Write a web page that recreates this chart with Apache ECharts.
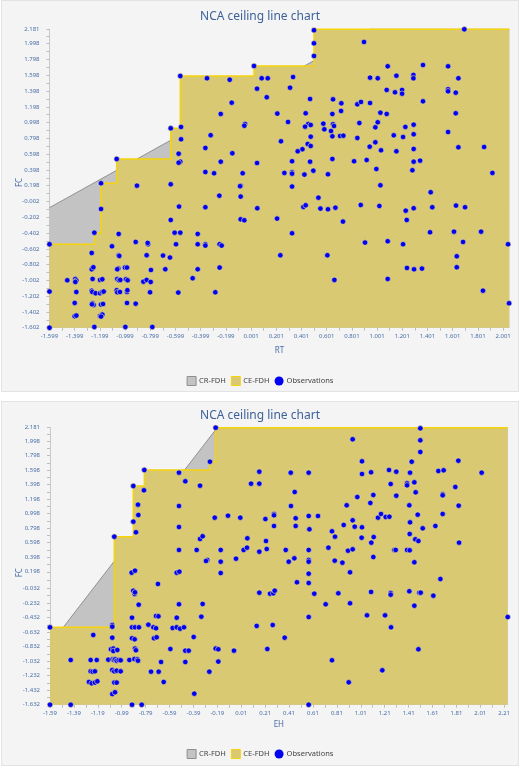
<!DOCTYPE html>
<html><head><meta charset="utf-8">
<script src="https://cdn.jsdelivr.net/npm/echarts@6/dist/echarts.min.js"></script>
<style>
html,body{margin:0;padding:0;background:#fff;width:520px;height:766px;overflow:hidden}
.panel{position:absolute;left:1px;width:518px;background:#f4f4f4;box-shadow:inset 0 0 0 1px #e3e3e3}
#c1{top:0;height:392px}
#c2{top:401px;height:365px}
</style></head><body>
<div id="c1" class="panel"></div><div id="c2" class="panel"></div>
<script>
// ---------- data: chart 1 (RT vs FC) ----------
const topTitle = 'NCA ceiling line chart';
const topXName = 'RT', topYName = 'FC';
const topXTicks = [-1.599,-1.399,-1.199,-0.999,-0.799,-0.599,-0.399,-0.199,0.001,0.201,0.401,0.601,0.801,1.001,1.201,1.401,1.601,1.801,2.001];
const topYTicks = [-1.602,-1.402,-1.202,-1.002,-0.802,-0.602,-0.402,-0.202,-0.002,0.198,0.398,0.598,0.798,0.998,1.198,1.398,1.598,1.798,1.998,2.181];
const topXRange = [-1.599, 2.05];
const topYRange = [-1.602, 2.181];
const topCR = [[-1.599,-0.080],[0.947,2.181],[2.05,2.181]];
const topCE = [[-1.599,-0.544],[-1.243,-0.397],[-1.190,0.229],[-1.066,0.537],[-0.637,0.926],[-0.561,1.589],[0.024,1.716],[0.500,2.181],[2.05,2.181]];
const topObs = [
[0.024,1.716],[-0.561,1.589],[-0.349,1.560],[-0.169,1.542],[0.048,1.428],[-0.153,1.251],[-0.240,1.108],[-0.047,0.981],[-0.053,0.959],[-0.637,0.926],[-0.555,0.943],[-0.555,0.787],[-0.320,0.838],[-0.362,0.677],[-0.148,0.609],[-0.574,0.604],[-0.561,0.503],[-0.574,0.490],[-0.240,0.503],[0.048,0.486],[-0.362,0.372],[-0.293,0.356],[-0.066,0.356],[-1.066,0.537],
[1.693,2.181],[0.500,2.170],[0.500,2.003],[0.500,1.843],[0.897,2.020],[1.085,1.712],[1.365,1.728],[1.564,1.712],[0.085,1.560],[0.133,1.560],[0.334,1.576],[0.945,1.568],[1.006,1.560],[1.154,1.593],[1.289,1.602],[1.289,1.560],[1.646,1.560],[0.310,1.441],[1.077,1.412],[1.143,1.382],[1.199,1.412],[1.199,1.365],[1.564,1.420],[1.564,1.395],[1.625,1.378],[0.125,1.319],[0.469,1.298],[0.651,1.293],[0.717,1.243],[0.844,1.230],[0.873,1.260],[0.945,1.247],[1.365,1.268],[0.715,1.146],[0.209,1.112],[0.434,1.116],[0.646,1.108],[1.027,1.124],[1.077,1.108],[1.625,1.116],[0.294,1.006],[0.455,0.981],[0.474,0.968],[0.429,0.947],[0.574,0.985],[0.651,0.977],[0.659,0.955],[0.860,0.993],[1.006,1.002],[0.987,0.938],[1.225,0.943],[1.291,0.972],[0.582,0.913],[0.635,0.892],[0.474,0.820],[0.646,0.824],[0.707,0.829],[0.733,0.833],[0.844,0.803],[1.133,0.837],[1.207,0.816],[1.291,0.850],[1.564,0.879],[0.238,0.761],[0.450,0.727],[0.474,0.702],[0.408,0.660],[0.371,0.634],[0.942,0.693],[0.987,0.748],[1.032,0.647],[1.154,0.634],[1.291,0.664],[1.646,0.685],[1.850,0.689],[0.646,0.537],[0.326,0.508],[0.469,0.503],[0.818,0.508],[0.918,0.524],[1.291,0.503],[1.342,0.516],[0.265,0.360],[0.326,0.368],[0.326,0.351],[0.424,0.339],[0.495,0.389],[0.611,0.343],[0.995,0.410],[1.281,0.394],[1.916,0.360],
[0.326,0.187],[1.027,0.203],[1.426,0.115],[0.535,0.047],[0.416,-0.071],[0.434,-0.050],[0.551,-0.092],[0.611,-0.101],[0.670,-0.080],[0.871,-0.046],[1.019,-0.059],[1.228,-0.118],[1.291,-0.088],[1.439,-0.075],[1.627,-0.054],[1.699,-0.075],[0.207,-0.219],[0.730,-0.257],[1.236,-0.236],[0.326,-0.405],[1.421,-0.392],[1.611,-0.384],[1.826,-0.384],[0.905,-0.523],[1.085,-0.506],[1.207,-0.544],[1.683,-0.515],[2.040,-0.544],[0.233,-0.684],[0.606,-0.684],[1.633,-0.697],[1.238,-0.844],[1.294,-0.861],[1.357,-0.853],[1.633,-0.836],[0.662,-0.996],[1.085,-0.984],[1.841,-1.132],[2.048,-1.292],
[-1.190,0.229],[-0.905,0.199],[-0.637,0.216],[-0.082,0.199],[-0.087,0.192],[-0.251,0.072],[-0.082,0.060],[-1.190,-0.097],[-0.571,-0.067],[-0.362,-0.075],[0.050,-0.088],[-0.637,-0.236],[-0.082,-0.228],[-0.053,-0.240],[-1.243,-0.397],[-1.050,-0.413],[-0.606,-0.397],[-0.561,-0.397],[-0.423,-0.413],[-1.599,-0.544],[-1.103,-0.570],[-0.915,-0.515],[-0.817,-0.544],[-0.820,-0.527],[-0.595,-0.544],[-0.423,-0.544],[-0.362,-0.544],[-0.362,-0.561],[-0.249,-0.544],[-0.233,-0.561],[-1.264,-0.654],[-1.050,-0.684],[-1.045,-0.692],[-0.828,-0.684],[-0.698,-0.688],[-0.643,-0.713],[-1.257,-0.849],[-1.264,-0.861],[-1.251,-0.836],[-1.053,-0.853],[-1.061,-0.861],[-1.000,-0.840],[-0.984,-0.840],[-0.794,-0.870],[-0.680,-0.861],[-0.423,-0.861],[-0.249,-0.840],[-1.458,-1.001],[-1.394,-0.984],[-1.386,-1.005],[-1.394,-1.022],[-1.257,-0.984],[-1.198,-0.996],[-1.180,-0.988],[-1.061,-0.984],[-1.048,-1.001],[-1.037,-0.996],[-0.992,-0.988],[-0.979,-1.001],[-0.854,-1.018],[-0.828,-0.996],[-0.796,-1.022],[-0.463,-0.975],[-1.599,-1.144],[-1.386,-1.149],[-1.264,-1.132],[-1.259,-1.149],[-1.233,-1.165],[-1.198,-1.165],[-1.180,-1.149],[-1.169,-1.144],[-1.066,-1.127],[-1.061,-1.153],[-1.040,-1.149],[-0.984,-1.149],[-0.981,-1.127],[-0.801,-1.153],[-0.577,-1.157],[-0.283,-1.153],[-1.399,-1.288],[-1.257,-1.292],[-1.249,-1.313],[-1.262,-1.305],[-1.190,-1.309],[-1.174,-1.301],[-0.984,-1.288],[-0.915,-1.297],[-1.399,-1.457],[-1.386,-1.448],[-1.198,-1.453],[-1.180,-1.436],[-1.190,-1.461],[-1.599,-1.602],[-1.243,-1.592],[-0.997,-1.592],[-0.783,-1.592]
];

// ---------- data: chart 2 (EH vs FC) ----------
const botTitle = 'NCA ceiling line chart';
const botXName = 'EH', botYName = 'FC';
const botXTicks = [-1.59,-1.39,-1.19,-0.99,-0.79,-0.59,-0.39,-0.19,0.01,0.21,0.41,0.61,0.81,1.01,1.21,1.41,1.61,1.81,2.01,2.21];
const botYTicks = [-1.632,-1.432,-1.232,-1.032,-0.832,-0.632,-0.432,-0.232,-0.032,0.198,0.398,0.598,0.798,0.998,1.198,1.398,1.598,1.798,1.998,2.181];
const botXRange = [-1.59, 2.239];
const botYRange = [-1.632, 2.181];
const botCR = [[-1.590,-0.803],[-0.191,2.181],[2.239,2.181]];
const botCE = [[-1.590,-0.567],[-1.069,-0.535],[-1.052,0.681],[-0.893,1.379],[-0.801,1.599],[-0.252,1.713],[-0.204,2.181],[2.239,2.181]];
const botObs = [
[-0.204,2.181],[-0.252,1.713],[-0.801,1.599],[-0.511,1.562],[-0.893,1.379],[-0.804,1.319],[-0.458,1.443],[-0.335,1.383],[0.161,1.576],[0.161,1.411],[0.092,1.411],[-0.854,1.122],[-0.511,1.103],[-0.851,0.979],[-0.212,0.943],[-0.101,0.970],[0.002,0.943],[-0.893,0.888],[-0.871,0.741],[-0.511,0.814],[-1.052,0.681],[-0.335,0.649],[-0.313,0.686],[0.061,0.658],[-0.511,0.498],[-0.363,0.498],[-0.162,0.498],[0.030,0.498],[0.058,0.530],[0.161,0.475],[-0.274,0.360],[-0.285,0.346],[-0.162,0.337],[-0.034,0.378],
[1.508,2.172],[0.942,2.021],[1.508,2.007],[1.508,1.847],[1.020,1.718],[1.436,1.713],[1.826,1.727],[0.424,1.562],[0.574,1.562],[1.020,1.544],[1.096,1.567],[1.246,1.599],[1.307,1.576],[1.422,1.562],[1.659,1.585],[1.703,1.594],[2.021,1.562],[1.260,1.406],[1.397,1.415],[1.397,1.388],[1.458,1.429],[1.801,1.365],[0.457,1.296],[1.469,1.291],[0.981,1.227],[1.115,1.255],[1.307,1.245],[1.695,1.264],[1.695,1.250],[0.426,1.103],[0.892,1.112],[1.090,1.145],[1.416,1.112],[1.829,1.108],[0.212,0.924],[0.284,0.993],[0.284,0.975],[0.465,0.934],[0.574,0.966],[0.652,0.966],[0.942,0.906],[1.154,0.943],[1.179,0.993],[1.218,0.952],[1.249,0.956],[1.486,0.984],[1.695,0.993],[0.284,0.828],[0.465,0.828],[0.580,0.782],[0.867,0.842],[0.959,0.819],[1.020,0.810],[1.422,0.878],[1.528,0.796],[1.634,0.828],[0.769,0.755],[0.794,0.681],[1.017,0.667],[1.118,0.676],[1.098,0.599],[1.419,0.718],[1.466,0.644],[1.492,0.621],[1.832,0.599],[0.217,0.621],[0.223,0.511],[0.382,0.498],[0.574,0.498],[0.739,0.530],[0.903,0.488],[0.942,0.507],[1.291,0.498],[1.302,0.498],[1.397,0.498],[1.419,0.493],[0.407,0.337],[0.454,0.383],[0.574,0.360],[0.574,0.337],[0.792,0.351],[0.856,0.323],[1.115,0.401],[1.458,0.328],
[-0.907,0.186],[-0.879,0.213],[-0.530,0.186],[-0.508,0.199],[-0.162,0.181],[-0.687,0.030],[0.161,-0.090],[-0.893,-0.062],[-0.882,-0.108],[-0.879,-0.085],[-0.848,-0.255],[-0.511,-0.250],[-0.313,-0.245],[-0.904,-0.434],[-0.703,-0.411],[-0.683,-0.416],[-0.530,-0.434],[-0.324,-0.420],[-1.590,-0.567],[-1.069,-0.535],[-1.069,-0.558],[-0.904,-0.567],[-0.879,-0.567],[-0.846,-0.567],[-0.767,-0.530],[-0.725,-0.567],[-0.703,-0.580],[-0.564,-0.576],[-0.530,-0.567],[-0.502,-0.585],[-0.469,-0.567],[0.139,-0.548],[-1.228,-0.672],[-1.069,-0.709],[-0.904,-0.718],[-0.882,-0.732],[-0.720,-0.718],[-0.698,-0.704],[-0.388,-0.700],[-1.080,-0.870],[-1.060,-0.860],[-1.035,-0.883],[-1.060,-0.893],[-1.027,-0.879],[-0.879,-0.860],[-0.871,-0.883],[-0.583,-0.865],[-0.458,-0.888],[-0.430,-0.888],[-0.204,-0.860],[-0.182,-0.870],[-0.051,-0.888],[-1.417,-1.017],[-1.250,-1.017],[-1.199,-1.017],[-1.102,-1.012],[-1.066,-1.007],[-1.055,-1.017],[-1.044,-1.007],[-1.032,-1.026],[-1.016,-1.017],[-0.999,-1.021],[-0.926,-1.017],[-0.884,-1.003],[-0.859,-1.007],[-0.854,-1.026],[-0.661,-1.044],[-0.458,-1.044],[-0.182,-1.039],[-1.250,-1.173],[-1.233,-1.177],[-1.214,-1.173],[-1.069,-1.154],[-1.052,-1.173],[-1.032,-1.163],[-0.999,-1.173],[-0.745,-1.177],[-0.681,-1.177],[-0.257,-1.177],[-1.264,-1.319],[-1.241,-1.338],[-1.214,-1.328],[-1.194,-1.310],[-1.052,-1.328],[-1.032,-1.328],[-0.639,-1.319],[-1.069,-1.485],[-1.046,-1.461],[-0.383,-1.480],[-1.590,-1.632],[-1.417,-1.632],[-0.904,-1.632],[-0.823,-1.632],
[0.574,0.172],[0.920,0.190],[1.676,0.098],[0.476,0.053],[0.574,0.043],[0.251,-0.104],[0.278,-0.099],[0.290,-0.062],[0.621,-0.104],[0.822,-0.099],[1.096,-0.080],[1.260,-0.094],[1.260,-0.117],[1.416,-0.071],[1.500,-0.090],[1.511,-0.090],[1.617,-0.131],[0.716,-0.250],[0.920,-0.236],[1.458,-0.269],[0.574,-0.425],[1.062,-0.402],[1.213,-0.402],[2.239,-0.425],[0.273,-0.535],[1.263,-0.567],[0.373,-0.709],[0.228,-0.865],[1.492,-0.870],[0.769,-1.021],[1.190,-1.159],[0.909,-1.324],[0.574,-1.632]
];

// ---------- styling ----------
const FONT = "'Noto Sans', 'Open Sans', sans-serif";
const LABEL_BLUE = '#4a6ea8';
const TITLE_BLUE = '#3d6199';
const CR_FILL = '#c3c3c3', CR_LINE = '#8f8f8f';
const CE_FILL = '#d9c972', CE_LINE = '#f6d40a';
const OBS = '#0000f2';

function withMinor(ticks, max) {
  const out = [];
  for (let i = 0; i < ticks.length; i++) {
    out.push(ticks[i]);
    if (i < ticks.length - 1) out.push((ticks[i] + ticks[i + 1]) / 2);
  }
  return out.filter(v => v <= max + 1e-9);
}

function axis(kind, ticks, range, dec, name, nameGap, extra) {
  return Object.assign({
    type: 'value', min: range[0], max: range[1],
    name: name, nameLocation: 'middle', nameGap: nameGap, nameMoveOverlap: false,
    nameTextStyle: { color: LABEL_BLUE, fontSize: 8, fontFamily: FONT },
    axisLine: { show: true, onZero: false, lineStyle: { color: '#c9c9c9', width: 1 } },
    axisTick: { show: true, customValues: withMinor(ticks, range[1]), length: 3, lineStyle: { color: '#bdbdbd' } },
    axisLabel: { customValues: ticks, formatter: v => Number(v).toFixed(dec), fontSize: 6, color: LABEL_BLUE, fontFamily: FONT, margin: kind === 'x' ? 6 : 10 },
    splitLine: { show: false }
  }, extra || {});
}

function build(cfg) {
  return {
    animation: false,
    textStyle: { fontFamily: FONT },
    title: { text: cfg.title, left: 'center', top: cfg.titleTop, textStyle: { color: TITLE_BLUE, fontSize: 12, fontWeight: 'normal', fontFamily: FONT } },
    grid: { left: cfg.grid[0], top: cfg.grid[1], width: cfg.grid[2], height: cfg.grid[3], containLabel: false, outerBoundsMode: 'none' },
    legend: {
      top: cfg.legendTop, left: 'center', itemWidth: 9, itemHeight: 9, itemGap: 5,
      textStyle: { fontSize: 7.5, color: '#444', fontFamily: FONT, padding: [0, 0, 0, -2] },
      data: [
        { name: 'CR-FDH', icon: 'rect', itemStyle: { color: CR_FILL, borderColor: CR_LINE, borderWidth: 1 } },
        { name: 'CE-FDH', icon: 'rect', itemStyle: { color: CE_FILL, borderColor: CE_LINE, borderWidth: 1 } },
        { name: 'Observations', icon: 'circle', itemStyle: { color: OBS, borderWidth: 0 } }
      ]
    },
    xAxis: axis('x', cfg.xTicks, cfg.xRange, cfg.xDec, cfg.xName, cfg.xNameGap),
    yAxis: axis('y', cfg.yTicks, cfg.yRange, 3, cfg.yName, 26, {
      nameTextStyle: { color: LABEL_BLUE, fontSize: 8, fontFamily: FONT, padding: [0, cfg.yNamePad, 0, 0] }
    }),
    series: [
      { name: 'CR-FDH', type: 'line', data: cfg.cr, showSymbol: false, symbol: 'none', clip: false, z: 1,
        lineStyle: { color: CR_LINE, width: 1 }, itemStyle: { color: CR_FILL },
        areaStyle: { color: CR_FILL, opacity: 1, origin: 'start' } },
      { name: 'CE-FDH', type: 'line', step: 'end', data: cfg.ce, showSymbol: false, symbol: 'none', clip: false, z: 2,
        lineStyle: { color: CE_LINE, width: 1.5 }, itemStyle: { color: CE_FILL },
        areaStyle: { color: CE_FILL, opacity: 1, origin: 'start' } },
      { name: 'Observations', type: 'scatter', data: cfg.obs, symbolSize: 5.5, clip: false, z: 3,
        itemStyle: { color: OBS, borderColor: '#f2e68e', borderWidth: 0.6, opacity: 1 } }
    ]
  };
}

const c1 = echarts.init(document.getElementById('c1'), null, { renderer: 'canvas' });
c1.setOption(build({
  title: topTitle, titleTop: 6, grid: [48.5, 29.3, 459.8, 298.4], legendTop: 371,
  xTicks: topXTicks, xRange: topXRange, xDec: 3, xName: topXName, xNameGap: 19,
  yTicks: topYTicks, yRange: topYRange, yName: topYName, yNamePad: 8,
  cr: topCR, ce: topCE, obs: topObs
}));

const c2 = echarts.init(document.getElementById('c2'), null, { renderer: 'canvas' });
c2.setOption(build({
  title: botTitle, titleTop: 4, grid: [49, 26.7, 457.7, 277], legendTop: 343,
  xTicks: botXTicks, xRange: botXRange, xDec: 2, xName: botXName, xNameGap: 16.5,
  yTicks: botYTicks, yRange: botYRange, yName: botYName, yNamePad: 13,
  cr: botCR, ce: botCE, obs: botObs
}));
</script></body></html>
